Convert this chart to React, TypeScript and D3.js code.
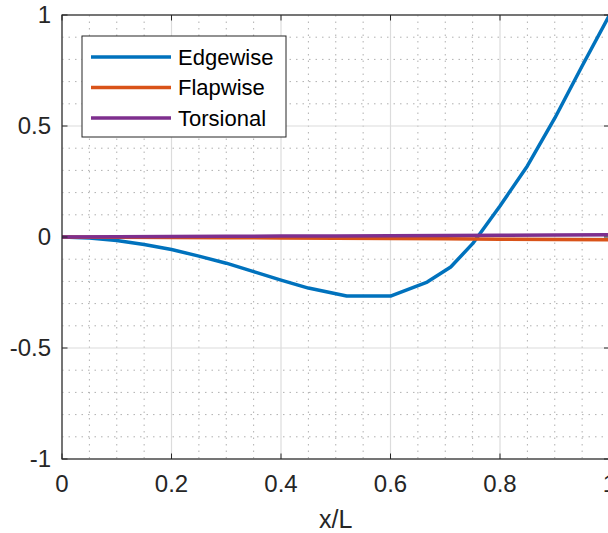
import React, { useEffect, useRef } from 'react';
import * as d3 from 'd3';

const xEdge = [0, 0.05, 0.1, 0.15, 0.2, 0.25, 0.3, 0.35, 0.4, 0.45, 0.52, 0.6, 0.667, 0.71, 0.75, 0.8, 0.85, 0.9, 0.95, 1.0];
const edgewise = [0, -0.004, -0.016, -0.034, -0.056, -0.086, -0.118, -0.156, -0.194, -0.23, -0.266, -0.266, -0.203, -0.135, -0.03, 0.14, 0.32, 0.535, 0.77, 1.0];

const xFlap = [0, 0.1, 0.2, 0.3, 0.4, 0.5, 0.6, 0.7, 0.8, 0.9, 1.0];
const flapwise = [0, -0.001, -0.002, -0.003, -0.004, -0.006, -0.007, -0.008, -0.01, -0.011, -0.012];
const torsional = [0, 0.001, 0.002, 0.003, 0.004, 0.005, 0.006, 0.007, 0.008, 0.009, 0.01];

const xTicks = [0, 0.2, 0.4, 0.6, 0.8, 1];
const yTicks = [-1, -0.5, 0, 0.5, 1];
const seriesNames = ['Edgewise', 'Flapwise', 'Torsional'];
const colors = ['#0072BD', '#D95319', '#7E2F8E'];

const App: React.FC = () => {
  const svgRef = useRef<SVGSVGElement>(null);

  useEffect(() => {
    if (!svgRef.current) return;
    const svg = d3.select(svgRef.current);
    svg.selectAll('*').remove();

    const left = 62, right = 609.5, top = 15, bottom = 459;
    const x = d3.scaleLinear().domain([0, 1]).range([left, right]);
    const y = d3.scaleLinear().domain([-1, 1]).range([bottom, top]);
    const font = 'Liberation Sans, Arial, Helvetica, sans-serif';
    const axisColor = '#262626';

    svg.append('rect').attr('x', left).attr('y', top)
      .attr('width', right - left).attr('height', bottom - top).attr('fill', '#fff');

    // minor grid
    const g = svg.append('g');
    d3.range(0, 1.0001, 0.05).filter(v => Math.abs(v * 5 - Math.round(v * 5)) > 1e-6).forEach(v => {
      g.append('line').attr('x1', x(v)).attr('x2', x(v)).attr('y1', top).attr('y2', bottom)
        .attr('stroke', '#b0b0b0').attr('stroke-width', 1).attr('stroke-dasharray', '1.5,5');
    });
    d3.range(-1, 1.0001, 0.1).filter(v => Math.abs(v * 2 - Math.round(v * 2)) > 1e-6).forEach(v => {
      g.append('line').attr('x1', left).attr('x2', right).attr('y1', y(v)).attr('y2', y(v))
        .attr('stroke', '#b0b0b0').attr('stroke-width', 1).attr('stroke-dasharray', '1.5,5');
    });
    // major grid
    xTicks.forEach(v => {
      g.append('line').attr('x1', x(v)).attr('x2', x(v)).attr('y1', top).attr('y2', bottom)
        .attr('stroke', '#dcdcdc').attr('stroke-width', 1.2);
    });
    yTicks.forEach(v => {
      g.append('line').attr('x1', left).attr('x2', right).attr('y1', y(v)).attr('y2', y(v))
        .attr('stroke', '#dcdcdc').attr('stroke-width', 1.2);
    });

    // lines
    const line = d3.line<[number, number]>().x(d => x(d[0])).y(d => y(d[1]));
    const series: [number, number][][] = [
      xEdge.map((v, i) => [v, edgewise[i]]),
      xFlap.map((v, i) => [v, flapwise[i]]),
      xFlap.map((v, i) => [v, torsional[i]]),
    ];
    series.forEach((s, i) => {
      svg.append('path').attr('d', line(s) as string).attr('fill', 'none')
        .attr('stroke', colors[i]).attr('stroke-width', 3.5).attr('stroke-linejoin', 'round');
    });

    // box + ticks
    svg.append('rect').attr('x', left).attr('y', top)
      .attr('width', right - left).attr('height', bottom - top)
      .attr('fill', 'none').attr('stroke', axisColor).attr('stroke-width', 1.2);
    const tl = 5.5;
    xTicks.forEach(v => {
      svg.append('line').attr('x1', x(v)).attr('x2', x(v)).attr('y1', bottom).attr('y2', bottom - tl).attr('stroke', axisColor);
      svg.append('line').attr('x1', x(v)).attr('x2', x(v)).attr('y1', top).attr('y2', top + tl).attr('stroke', axisColor);
      svg.append('text').attr('x', x(v)).attr('y', bottom + 33).attr('text-anchor', 'middle')
        .attr('font-family', font).attr('font-size', 24).attr('fill', axisColor).text(String(v));
    });
    yTicks.forEach(v => {
      svg.append('line').attr('x1', left).attr('x2', left + tl).attr('y1', y(v)).attr('y2', y(v)).attr('stroke', axisColor);
      svg.append('line').attr('x1', right).attr('x2', right - tl).attr('y1', y(v)).attr('y2', y(v)).attr('stroke', axisColor);
      svg.append('text').attr('x', left - 11).attr('y', y(v)).attr('dy', '0.35em').attr('text-anchor', 'end')
        .attr('font-family', font).attr('font-size', 24).attr('fill', axisColor).text(String(v));
    });

    svg.append('text').attr('x', (left + right) / 2).attr('y', 528).attr('text-anchor', 'middle')
      .attr('font-family', font).attr('font-size', 25).attr('fill', axisColor).text('x/L');

    // legend
    const lg = svg.append('g');
    lg.append('rect').attr('x', 82).attr('y', 36).attr('width', 204).attr('height', 101)
      .attr('fill', '#fff').attr('stroke', axisColor).attr('stroke-width', 1);
    seriesNames.forEach((name, i) => {
      const yy = 57 + i * 30.5;
      lg.append('line').attr('x1', 91).attr('x2', 171).attr('y1', yy).attr('y2', yy)
        .attr('stroke', colors[i]).attr('stroke-width', 3.5);
      lg.append('text').attr('x', 178).attr('y', yy).attr('dy', '0.35em')
        .attr('font-family', font).attr('font-size', 22).attr('fill', '#000').text(name);
    });
  }, []);

  return (
    <svg ref={svgRef} width={608} height={533}
      style={{ position: 'absolute', left: 0, top: 0, background: '#fff' }} />
  );
};

export default App;
